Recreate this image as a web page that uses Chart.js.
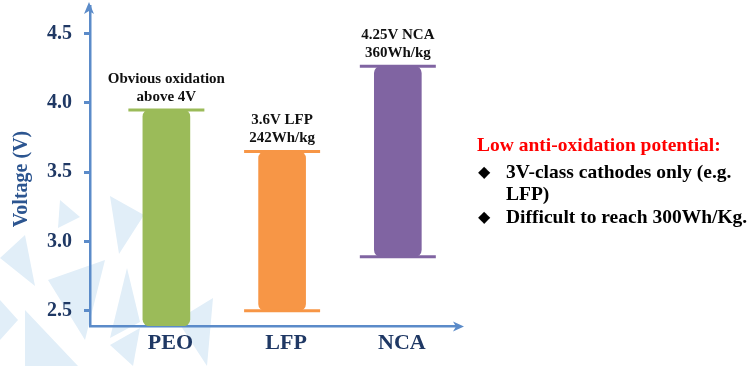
<!DOCTYPE html>
<html><head><meta charset="utf-8">
<script src="https://cdn.jsdelivr.net/npm/chart.js@4.4.1/dist/chart.umd.min.js"></script>
<style>
html,body{margin:0;padding:0;background:#fff;}
#wrap{position:relative;width:756px;height:366px;overflow:hidden;}
#c{position:absolute;left:0;top:0;}
.t{position:absolute;font-family:"Liberation Serif","Times New Roman",serif;font-weight:bold;white-space:nowrap;font-size:19.5px;line-height:24px;color:#000;}
.d{position:absolute;font-family:"DejaVu Sans",sans-serif;font-size:16px;line-height:24px;color:#000;}
</style></head><body>
<div id="wrap"><canvas id="c" width="756" height="366"></canvas><div id="notes"></div></div>
<script>
// ---- data ----
const categories = ['PEO', 'LFP', 'NCA'];
const rangeLow  = [2.39, 2.50, 2.89];
const rangeHigh = [3.95, 3.65, 4.265];
const capHigh   = [3.95, 3.65, 4.265];
const capLow    = [null, 2.50, 2.89];
const barColors = ['#9BBB59', '#F79646', '#8064A2'];
const annotations = [['Obvious oxidation', 'above 4V'], ['3.6V LFP', '242Wh/kg'], ['4.25V NCA', '360Wh/kg']];
const yTicks = [2.5, 3.0, 3.5, 4.0, 4.5];
const yMin = 2.39, yMax = 4.7;
const yTitle = 'Voltage (V)';
const noteTitle = 'Low anti-oxidation potential:';
const noteBullets = [['3V-class cathodes only (e.g.', 'LFP)'], ['Difficult to reach 300Wh/Kg.']];

// ---- notes (HTML text) ----
(function(){
  const box = document.getElementById('notes');
  const tops = [160, 182, 205];
  let html = '<div class="t" style="left:477px;top:133px;color:#ff0000">' + noteTitle + '</div>';
  let k = 0;
  noteBullets.forEach(b => {
    b.forEach((line, j) => {
      if (j === 0) html += '<div class="d" style="left:478px;top:' + tops[k] + 'px">\u25C6</div>';
      html += '<div class="t" style="left:506px;top:' + tops[k] + 'px">' + line + '</div>';
      k++;
    });
  });
  box.innerHTML = html;
})();

const SERIF = '"Liberation Serif", "Times New Roman", serif';
const axisColor = '#5B8BC9';
const navy = '#1F3864';

const decoPlugin = {
  id: 'deco',
  beforeDraw(chart) {
    const ctx = chart.ctx;
    const tris = [
      [[60,200],[80,217],[58,228]],
      [[110,196],[144,215],[119,254]],
      [[0,258],[25,235],[35,286]],
      [[48,280],[105,260],[85,340]],
      [[25,310],[78,366],[25,366]],
      [[127,268],[140,322],[110,338]],
      [[177,320],[213,298],[207,366]],
      [[110,345],[140,328],[133,366]],
      [[0,300],[18,320],[0,340]]
    ];
    ctx.save();
    ctx.fillStyle = '#E1EEF8';
    tris.forEach(t => {
      ctx.beginPath();
      ctx.moveTo(t[0][0], t[0][1]);
      ctx.lineTo(t[1][0], t[1][1]);
      ctx.lineTo(t[2][0], t[2][1]);
      ctx.closePath();
      ctx.fill();
    });
    ctx.restore();
  },
  afterDatasetsDraw(chart) {
    const ctx = chart.ctx, xs = chart.scales.x, ys = chart.scales.y;
    ctx.save();
    ctx.font = 'bold 15px ' + SERIF;
    ctx.textAlign = 'center';
    ctx.textBaseline = 'middle';
    ctx.fillStyle = '#111111';
    annotations.forEach((lines, i) => {
      const x = xs.getPixelForValue(i);
      const y = ys.getPixelForValue(capHigh[i]);
      ctx.fillText(lines[0], x, y - 31);
      ctx.fillText(lines[1], x, y - 13);
    });
    ctx.restore();
  },
  afterDraw(chart) {
    const ctx = chart.ctx, a = chart.chartArea;
    const ax = a.left - 1, ay = a.bottom + 0.5;
    ctx.save();
    ctx.fillStyle = axisColor;
    // y arrow
    ctx.beginPath();
    ctx.moveTo(ax, 2);
    ctx.lineTo(ax + 5, 14);
    ctx.lineTo(ax, 11);
    ctx.lineTo(ax - 5, 14);
    ctx.closePath();
    ctx.fill();
    // x arrow
    ctx.beginPath();
    ctx.moveTo(a.right + 6, ay);
    ctx.lineTo(a.right - 5, ay - 5);
    ctx.lineTo(a.right - 2, ay);
    ctx.lineTo(a.right - 5, ay + 5);
    ctx.closePath();
    ctx.fill();
    // y title
    ctx.fillStyle = '#2C5590';
    ctx.font = 'bold 20px ' + SERIF;
    ctx.textAlign = 'center';
    ctx.textBaseline = 'middle';
    ctx.translate(22, 179);
    ctx.rotate(-Math.PI / 2);
    ctx.fillText(yTitle, 0, 0);
    ctx.restore();
  }
};

new Chart(document.getElementById('c'), {
  type: 'bar',
  data: {
    datasets: [
      {
        type: 'line', order: 0, showLine: false,
        data: capHigh.map((v, i) => ({x: i, y: v})),
        pointStyle: 'line', pointRadius: 38, pointHoverRadius: 38,
        pointBorderWidth: 3, pointHoverBorderWidth: 3,
        pointBorderColor: barColors, pointBackgroundColor: barColors,
        clip: false
      },
      {
        type: 'line', order: 0, showLine: false,
        data: capLow.map((v, i) => ({x: i, y: v})),
        pointStyle: 'line', pointRadius: 38, pointHoverRadius: 38,
        pointBorderWidth: 3, pointHoverBorderWidth: 3,
        pointBorderColor: barColors, pointBackgroundColor: barColors,
        clip: false
      },
      {
        type: 'bar', order: 1,
        data: categories.map((c, i) => ({x: i, y: [rangeLow[i], rangeHigh[i]]})),
        backgroundColor: barColors,
        borderRadius: 7, borderSkipped: false, borderWidth: 0,
        barThickness: 47, grouped: false
      }
    ]
  },
  options: {
    responsive: false, animation: false,
    layout: {autoPadding: false, padding: {left: 0, top: 6, right: 298, bottom: 0}},
    plugins: {legend: {display: false}, tooltip: {enabled: false}},
    events: [],
    scales: {
      x: {
        type: 'linear', min: -0.66, max: 2.52, offset: false,
        afterBuildTicks: s => { s.ticks = categories.map((c, i) => ({value: i})); },
        afterFit: s => { s.height = 40; s.paddingLeft = 0; s.paddingRight = 0; },
        ticks: {
          callback: v => categories[v], autoSkip: false, maxRotation: 0,
          font: {family: SERIF, size: 22, weight: 'bold'}, color: navy, padding: 4, labelOffset: 4
        },
        grid: {display: false, drawTicks: false},
        border: {display: true, color: axisColor, width: 2.5}
      },
      y: {
        min: yMin, max: yMax,
        afterBuildTicks: s => { s.ticks = yTicks.map(v => ({value: v})); },
        afterFit: s => { s.width = 90; s.paddingTop = 0; s.paddingBottom = 0; },
        ticks: {
          callback: v => v.toFixed(1),
          font: {family: SERIF, size: 20, weight: 'bold'}, color: navy, padding: 12
        },
        grid: {display: true, drawOnChartArea: false, drawTicks: true, tickLength: 6, tickWidth: 3, tickColor: axisColor, color: axisColor},
        border: {display: true, color: axisColor, width: 2.5}
      }
    }
  },
  plugins: [decoPlugin]
});
</script>
</body></html>
